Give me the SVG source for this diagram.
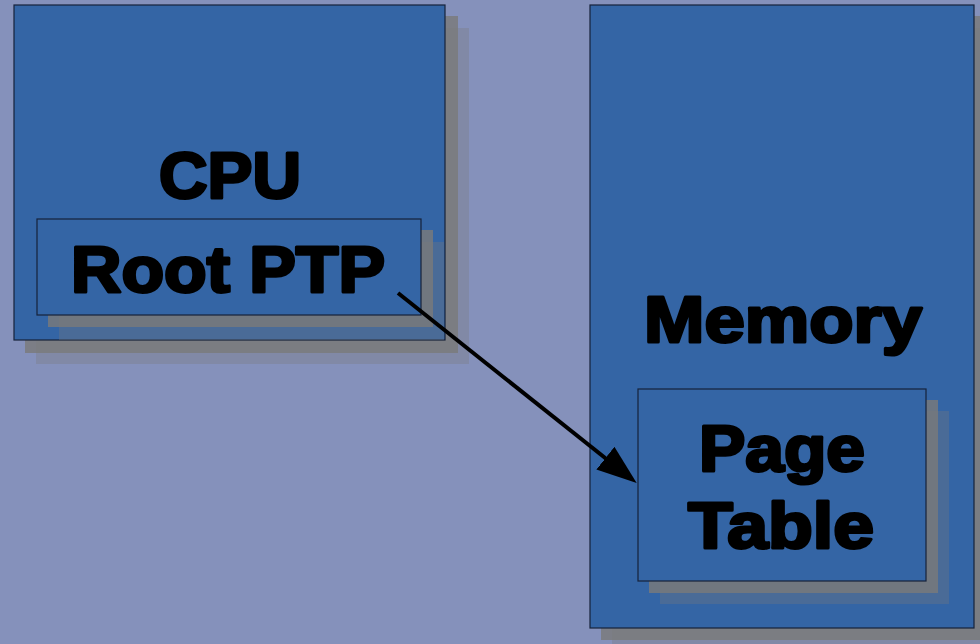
<svg xmlns="http://www.w3.org/2000/svg" width="980" height="644" viewBox="0 0 980 644">
  <defs>
    <style>
      .box { fill: #3465a5; stroke: #16223a; stroke-width: 1.2; }
      .sh1 { fill: #7a7a7a; fill-opacity: 0.82; }
      .sh2 { fill: #7a7a7a; fill-opacity: 0.32; }
      .label { font-family: "Liberation Sans", Arial, sans-serif; font-weight: bold; font-size: 64px; fill: #000; stroke: #000; stroke-width: 3; stroke-linejoin: round; text-anchor: middle; }
      .conn { stroke: #000; stroke-width: 4; fill: none; }
    </style>
    <marker id="arrowhead" markerUnits="userSpaceOnUse" markerWidth="42" markerHeight="30" refX="11" refY="14.5" orient="auto">
      <path d="M0,0 L40,14.5 L0,29 Z" fill="#000"/>
    </marker>
  </defs>

  <!-- background -->
  <rect x="0" y="0" width="980" height="644" fill="#8591bb"/>

  <!-- CPU block -->
  <g id="cpu">
    <rect class="sh2" x="36" y="28" width="433" height="336"/>
    <rect class="sh1" x="25" y="16" width="433" height="337"/>
    <rect class="box" x="14" y="5" width="431" height="335"/>
    <text class="label" x="230" y="198" textLength="142" lengthAdjust="spacingAndGlyphs">CPU</text>
  </g>

  <!-- Root page-table pointer register inside the CPU -->
  <g id="root-ptp">
    <rect class="sh2" x="59" y="242" width="385" height="98"/>
    <rect class="sh1" x="48" y="230" width="385" height="97"/>
    <rect class="box" x="37" y="219" width="384" height="96"/>
    <text class="label" x="228" y="292" textLength="314" lengthAdjust="spacingAndGlyphs">Root PTP</text>
  </g>

  <!-- Memory block -->
  <g id="memory">
    <rect class="sh2" x="612" y="28" width="384" height="623"/>
    <rect class="sh1" x="601" y="16" width="384" height="624"/>
    <rect class="box" x="590" y="5" width="384" height="623"/>
    <text class="label" x="783" y="342" textLength="278" lengthAdjust="spacingAndGlyphs">Memory</text>
  </g>

  <!-- Page table stored in memory -->
  <g id="page-table">
    <rect class="sh2" x="660" y="411" width="289" height="193"/>
    <rect class="sh1" x="649" y="400" width="289" height="193"/>
    <rect class="box" x="638" y="389" width="288" height="192"/>
    <text class="label" x="782" y="471" textLength="166" lengthAdjust="spacingAndGlyphs">Page</text>
    <text class="label" x="781" y="548" textLength="186" lengthAdjust="spacingAndGlyphs">Table</text>
  </g>

  <!-- connectors -->
  <g id="connectors">
    <line class="conn" x1="398" y1="293" x2="614" y2="465" marker-end="url(#arrowhead)"/>
  </g>
</svg>
